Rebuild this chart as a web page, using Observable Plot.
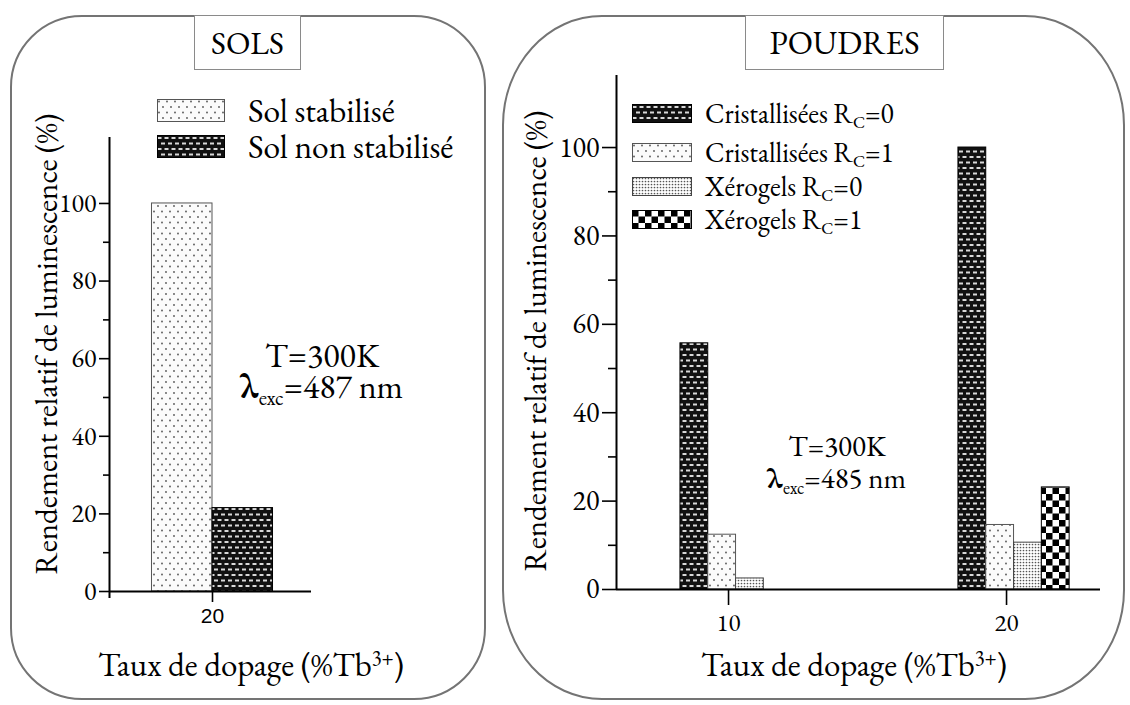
<!DOCTYPE html>
<html><head><meta charset="utf-8">
<script src="https://cdn.jsdelivr.net/npm/d3@7"></script>
<script src="https://cdn.jsdelivr.net/npm/@observablehq/plot@0.6"></script>
<style>
body{margin:0;background:#fff;}
#root{position:relative;width:1130px;height:705px;overflow:hidden;font-family:'EB Garamond','Liberation Serif',serif;color:#000;background:#fff;}
.panel{position:absolute;border:2.5px solid #747474;box-sizing:border-box;}
.title{position:absolute;background:#fff;border:1px solid #8a8a8a;box-sizing:border-box;display:flex;align-items:center;justify-content:center;}
.abs{position:absolute;white-space:nowrap;}
.plot{position:absolute;top:0;}
.leg{position:absolute;display:flex;align-items:center;white-space:nowrap;}
sub.s{font-size:0.62em;vertical-align:-0.32em;line-height:0;}
sup.s{font-size:0.62em;vertical-align:0.55em;line-height:0;}
.rot{position:absolute;width:600px;height:40px;line-height:40px;text-align:center;transform:rotate(-90deg);white-space:nowrap;}
</style></head>
<body>
<div id="root">
<svg width="0" height="0" style="position:absolute">
<defs>
<pattern id="pDots" width="8" height="11" patternUnits="userSpaceOnUse">
  <rect width="8" height="11" fill="#fbfbfb"/>
  <circle cx="2" cy="2.5" r="0.9" fill="#555"/>
  <circle cx="6" cy="8" r="0.9" fill="#555"/>
</pattern>
<pattern id="pBrick" width="7" height="11" patternUnits="userSpaceOnUse">
  <rect width="7" height="11" fill="#111"/>
  <rect x="0.5" y="2" width="4" height="2" fill="#d8d8d8"/>
  <rect x="4" y="7.5" width="4" height="2" fill="#d8d8d8"/>
  <rect x="-3" y="7.5" width="4" height="2" fill="#d8d8d8"/>
</pattern>
<pattern id="pFine" width="3" height="3" patternUnits="userSpaceOnUse">
  <rect width="3" height="3" fill="#fff"/>
  <circle cx="1.5" cy="1.5" r="0.85" fill="#555"/>
</pattern>
<pattern id="pCheck" width="13" height="13" patternUnits="userSpaceOnUse">
  <rect width="13" height="13" fill="#fff"/>
  <rect width="6.5" height="6.5" fill="#000"/>
  <rect x="6.5" y="6.5" width="6.5" height="6.5" fill="#000"/>
</pattern>
</defs>
</svg>
</div>
<script>
// ---------- DATA ----------
const solsDopage = [20];
const solsSeries = ["Sol stabilisé", "Sol non stabilisé"];
const solStabilise = [100];
const solNonStabilise = [21.5];

const poudresDopage = [10, 20];
const poudresSeries = ["Cristallisées R_C=0", "Cristallisées R_C=1", "Xérogels R_C=0", "Xérogels R_C=1"];
const cristRc0 = [55.7, 100];
const cristRc1 = [12.4, 14.6];
const xeroRc0 = [2.5, 10.6];
const xeroRc1 = [null, 23.1];

const yTicksMajor = [0, 20, 40, 60, 80, 100];
const yTicksMinor = [10, 30, 50, 70, 90];
const solsXTicks = [20];
const poudresXTicks = [10, 20];

// ---------- STYLES ----------
const SERIF = "'EB Garamond', 'Liberation Serif', serif";
const SANS = "'Liberation Sans', Arial, sans-serif";
const patDots = {fill: "url(#pDots)", stroke: "#555"};
const patBrick = {fill: "url(#pBrick)", stroke: "#000"};
const patFine = {fill: "url(#pFine)", stroke: "#444"};
const patCheck = {fill: "url(#pCheck)", stroke: "#000"};

const root = document.getElementById("root");

function panelPlot(o) {
  const n = o.series.length;
  const marks = [];
  o.series.forEach((name, i) => {
    const rows = o.dopage.map((d, j) => ({d, v: o.values[i][j], name})).filter(r => r.v != null);
    marks.push(Plot.rectY(rows, {
      x1: r => r.d + o.shift + i - n / 2,
      x2: r => r.d + o.shift + i - n / 2 + 1,
      y1: 0, y2: "v",
      fill: o.pats[i].fill, stroke: o.pats[i].stroke, strokeWidth: 1
    }));
  });
  marks.push(
    Plot.ruleY([0], {strokeWidth: 2}),
    Plot.ruleX([o.xDomain[0]], {strokeWidth: 2, insetBottom: -o.axisExt}),
    Plot.axisY({ticks: yTicksMajor, tickSize: o.yTickSize, tickPadding: 3, tickFormat: d3.format("d"), fontSize: o.yFont, label: null, strokeWidth: 1.6, color: "#000"}),
    Plot.axisY({ticks: yTicksMinor, tickSize: o.yMinorSize, tickFormat: () => "", label: null, strokeWidth: 1.6}),
    Plot.axisX({ticks: o.xTicks, tickSize: o.xTickSize, tickPadding: o.xPad, tickFormat: d3.format("d"), fontSize: o.xFont, label: null, strokeWidth: 1.6, color: "#000"})
  );
  const svg = Plot.plot({
    width: o.width, height: o.height,
    marginLeft: o.ml, marginRight: o.mr, marginTop: o.mt, marginBottom: o.mb,
    x: {type: "linear", domain: o.xDomain},
    y: {domain: o.yDomain},
    style: {background: "none", overflow: "visible", color: "#000", fontFamily: SERIF},
    marks
  });
  svg.classList.add("plot");
  svg.style.left = o.left + "px";
  root.appendChild(svg);
  // fonts: serif for y tick labels, chosen family for x tick labels (below the baseline)
  const base = svg.getBoundingClientRect().top + o.height - o.mb;
  svg.querySelectorAll("text").forEach(t => {
    const below = t.getBoundingClientRect().top > base;
    t.style.fontFamily = below ? o.xFamily : SERIF;
    t.style.fontSize = (below ? o.xFont : o.yFont) + "px";
  });
}

panelPlot({
  left: 0, width: 490, height: 705, ml: 109, mr: 179, mt: 137, mb: 114,
  xDomain: [18.298, 21.636], yDomain: [0, 117],
  series: solsSeries, dopage: solsDopage, values: [solStabilise, solNonStabilise],
  pats: [patDots, patBrick], shift: 0,
  xTicks: solsXTicks, xTickSize: 11, xPad: 6, xFont: 21, xFamily: SANS,
  yTickSize: 10, yMinorSize: 6, yFont: 26, axisExt: 7
});

panelPlot({
  left: 500, width: 630, height: 705, ml: 116, mr: 30, mt: 75, mb: 116,
  xDomain: [5.97, 23.38], yDomain: [0, 116.3],
  series: poudresSeries, dopage: poudresDopage, values: [cristRc0, cristRc1, xeroRc0, xeroRc1],
  pats: [patBrick, patDots, patFine, patCheck], shift: 0.27,
  xTicks: poudresXTicks, xTickSize: 16, xPad: 8, xFont: 25, xFamily: SERIF,
  yTickSize: 14, yMinorSize: 8, yFont: 28, axisExt: 0
});

// ---------- DECORATION ----------
function el(tag, cls, style, html) {
  const e = document.createElement(tag);
  if (cls) e.className = cls;
  e.style.fontFamily = SERIF;
  Object.assign(e.style, style);
  if (html != null) e.innerHTML = html;
  root.appendChild(e);
  return e;
}
el("div", "panel", {left: "10px", top: "15px", width: "476px", height: "685px", borderRadius: "72px"});
el("div", "panel", {left: "502px", top: "15px", width: "623px", height: "685px", borderRadius: "100px / 110px"});
el("div", "title", {left: "194px", top: "15px", width: "107px", height: "55px", fontSize: "32px"}, "SOLS");
el("div", "title", {left: "745px", top: "15px", width: "199px", height: "55px", fontSize: "33px"}, "POUDRES");

function fmtName(s) {
  return s.replace(/R_C/, 'R<sub class="s">C</sub>');
}
function legend(series, pats, left, tops, sw, sh, gap, font) {
  series.forEach((name, i) => {
    const d = el("div", "leg", {left: left + "px", top: tops[i] + "px", height: sh + "px", fontSize: font + "px"});
    d.innerHTML = `<svg width="${sw}" height="${sh}" style="display:block;flex:none"><rect x="0.5" y="0.5" width="${sw - 1}" height="${sh - 1}" fill="${pats[i].fill}" stroke="${pats[i].stroke}" stroke-width="1"/></svg><span style="margin-left:${gap}px;line-height:0.8">${fmtName(name)}</span>`;
  });
}
legend(solsSeries, [patDots, patBrick], 157, [99, 135], 68, 23, 23, 33.5);
legend(poudresSeries, [patBrick, patDots, patFine, patCheck], 632, [103.5, 142.5, 176.5, 209.5], 60, 19, 13, 27.5);

// annotations (two lines each)
el("div", "abs", {left: "172px", top: "340px", width: "300px", textAlign: "center", fontSize: "34px", lineHeight: "31px"}, 'T=300K<br><b>λ</b><sub class="s">exc</sub>=487 nm');
el("div", "abs", {left: "687px", top: "430px", width: "300px", textAlign: "center", fontSize: "29px", lineHeight: "32px"}, 'T=300K<br><b>λ</b><sub class="s">exc</sub>=485 nm');

// axis titles
el("div", "rot", {left: (46 - 300) + "px", top: (344 - 20) + "px", fontSize: "31px"}, "Rendement relatif de luminescence (%)");
el("div", "rot", {left: (535 - 300) + "px", top: (341 - 20) + "px", fontSize: "31px"}, "Rendement relatif de luminescence (%)");
el("div", "abs", {left: "51px", top: "648px", width: "400px", textAlign: "center", fontSize: "33px", lineHeight: "1"}, 'Taux de dopage (%Tb<sup class="s">3+</sup>)');
el("div", "abs", {left: "654px", top: "648px", width: "400px", textAlign: "center", fontSize: "33px", lineHeight: "1"}, 'Taux de dopage (%Tb<sup class="s">3+</sup>)');
</script>
</body></html>
